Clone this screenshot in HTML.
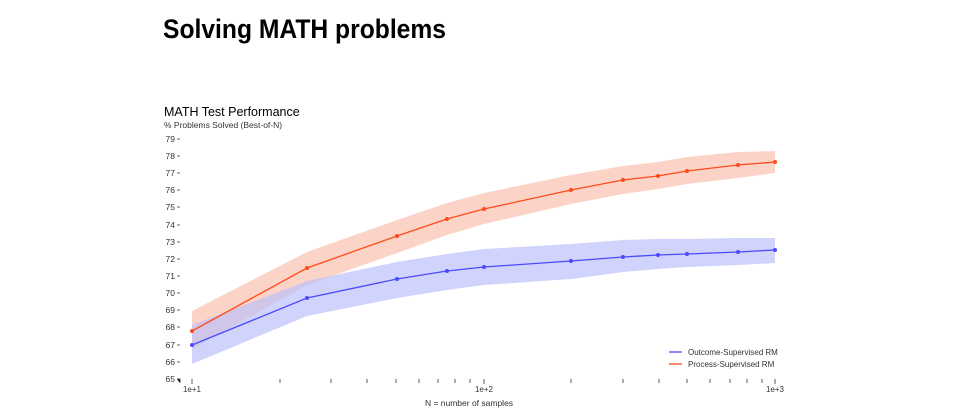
<!DOCTYPE html>
<html><head><meta charset="utf-8"><style>
html,body{margin:0;padding:0;background:#fff;}
svg{display:block;font-family:"Liberation Sans",sans-serif;}
</style></head><body>
<svg width="960" height="420" viewBox="0 0 960 420" xmlns="http://www.w3.org/2000/svg">
<text x="163" y="38" font-size="27" font-weight="bold" fill="#000" textLength="283" lengthAdjust="spacingAndGlyphs">Solving MATH problems</text>
<text x="164" y="116" font-size="12.5" fill="#000">MATH Test Performance</text>
<text x="164" y="128" font-size="8.5" fill="#333">% Problems Solved (Best-of-N)</text>
<g font-size="8.5" fill="#333" text-anchor="end">
<text x="175" y="142">79</text><text x="175" y="159">78</text><text x="175" y="176">77</text>
<text x="175" y="193">76</text><text x="175" y="210">75</text><text x="175" y="228">74</text>
<text x="175" y="245">73</text><text x="175" y="262">72</text><text x="175" y="279">71</text>
<text x="175" y="296">70</text><text x="175" y="313">69</text><text x="175" y="330">68</text>
<text x="175" y="348">67</text><text x="175" y="365">66</text><text x="175" y="382">65</text>
</g>
<g stroke="#333" stroke-width="0.8">
<path d="M177 139h3M177 156h3M177 173h3M177 190h3M177 207h3M177 225h3M177 242h3M177 259h3M177 276h3M177 293h3M177 310h3M177 327h3M177 345h3M177 362h3M177 379h3v4"/>
<path d="M192 379v5M280 379v4M331 379v4M367 379v4M396 379v4M419 379v4M438 379v4M455 379v4M470 379v4M484 379v5M571 379v4M623 379v4M659 379v4M687 379v4M710 379v4M730 379v4M747 379v4M762 379v4M775 379v5"/>
</g>
<g font-size="8" fill="#333" text-anchor="middle">
<text x="192" y="392">1e+1</text><text x="484" y="392">1e+2</text><text x="775" y="392">1e+3</text>
</g>
<text x="469" y="406" font-size="8.5" fill="#333" text-anchor="middle">N = number of samples</text>
<polygon fill="#fbc9b9" fill-opacity="0.8" points="192,311 307,252 397,220 447,203 484,193 571,175 623,166 658,162 687,157 738,152 775,151 775,173 738,178 687,184 658,189 623,194 571,204 484,224 447,235 397,253 307,285 192,349"/>
<polygon fill="#bcc0fa" fill-opacity="0.7" points="192,325 307,281 397,262 447,254 484,249 571,244 623,240 658,239 687,239 738,238 775,238 775,263 738,265 687,267 658,269 623,272 571,279 484,285 447,290 397,298 307,316 192,364"/>
<polyline fill="none" stroke="#ff4a1a" stroke-width="1.3" points="192,331 307,268 397,236 447,219 484,209 571,190 623,180 658,176 687,171 738,165 775,162"/>
<polyline fill="none" stroke="#4a4aff" stroke-width="1.3" points="192,345 307,298 397,279 447,271 484,267 571,261 623,257 658,255 687,254 738,252 775,250"/>
<g fill="#ff4a1a"><circle cx="192" cy="331" r="2"/><circle cx="307" cy="268" r="2"/><circle cx="397" cy="236" r="2"/><circle cx="447" cy="219" r="2"/><circle cx="484" cy="209" r="2"/><circle cx="571" cy="190" r="2"/><circle cx="623" cy="180" r="2"/><circle cx="658" cy="176" r="2"/><circle cx="687" cy="171" r="2"/><circle cx="738" cy="165" r="2"/><circle cx="775" cy="162" r="2"/></g>
<g fill="#4a4aff"><circle cx="192" cy="345" r="2"/><circle cx="307" cy="298" r="2"/><circle cx="397" cy="279" r="2"/><circle cx="447" cy="271" r="2"/><circle cx="484" cy="267" r="2"/><circle cx="571" cy="261" r="2"/><circle cx="623" cy="257" r="2"/><circle cx="658" cy="255" r="2"/><circle cx="687" cy="254" r="2"/><circle cx="738" cy="252" r="2"/><circle cx="775" cy="250" r="2"/></g>
<line x1="669" y1="352" x2="682" y2="352" stroke="#4a4aff" stroke-width="1.3"/>
<line x1="669" y1="364" x2="682" y2="364" stroke="#ff4a1a" stroke-width="1.3"/>
<g font-size="8" fill="#333"><text x="688" y="355">Outcome-Supervised RM</text><text x="688" y="367">Process-Supervised RM</text></g>
</svg>
</body></html>
